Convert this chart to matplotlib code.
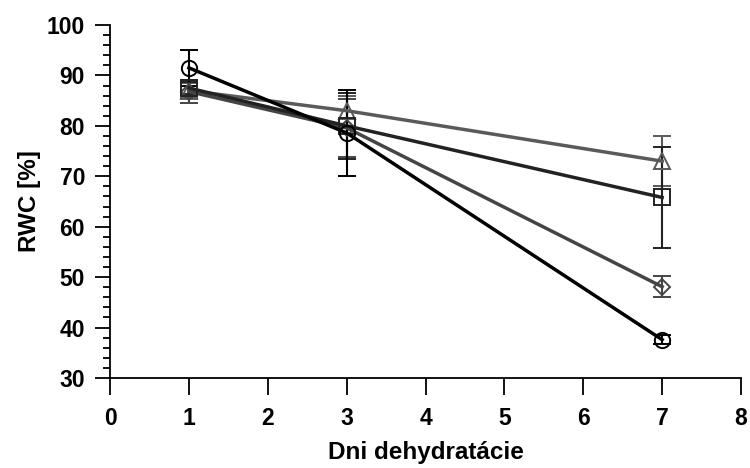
import matplotlib
matplotlib.use("Agg")
import matplotlib.pyplot as plt
from matplotlib.ticker import MultipleLocator

days = [1, 3, 7]
circle_vals = [91.5, 78.6, 37.6]
circle_err = [3.5, 8.5, 0.9]
square_vals = [87.5, 80.0, 65.8]
square_err = [1.2, 6.5, 10.0]
diamond_vals = [86.8, 79.6, 48.1]
diamond_err = [2.2, 5.7, 2.1]
triangle_vals = [87.0, 83.0, 73.0]
triangle_err = [1.5, 3.0, 4.9]

plt.rcParams['font.family'] = ['Liberation Sans', 'DejaVu Sans']
plt.rcParams['font.weight'] = 'bold'

fig = plt.figure(figsize=(7.5, 4.68), dpi=100)
ax = fig.add_axes([0.1467, 0.1923, 0.8413, 0.7543])

series = [
    (triangle_vals, triangle_err, '^', '#5a5a5a'),
    (diamond_vals, diamond_err, 'D', '#454545'),
    (square_vals, square_err, 's', '#222222'),
    (circle_vals, circle_err, 'o', '#000000'),
]
for vals, err, m, c in series:
    ms = 11 if m != 'D' else 8
    ax.errorbar(days, vals, yerr=err, color=c, lw=2.5, marker=m, ms=ms,
                mfc='none', mec=c, mew=1.4, ecolor=c, elinewidth=1.5,
                capsize=6.5, capthick=1.5)

ax.set_xlim(0, 8)
ax.set_ylim(30, 100)
ax.xaxis.set_major_locator(MultipleLocator(1))
ax.yaxis.set_major_locator(MultipleLocator(10))
ax.yaxis.set_minor_locator(MultipleLocator(2))
for s in ['top', 'right']:
    ax.spines[s].set_visible(False)
for s in ['left', 'bottom']:
    ax.spines[s].set_linewidth(1.3)
ax.tick_params(axis='y', which='major', length=11, width=1.3,
               labelsize=16.5, pad=7)
ax.tick_params(axis='y', which='minor', length=5, width=1.3)
ax.tick_params(axis='x', which='major', length=12, width=1.3,
               labelsize=16.5, pad=9)
ax.set_xlabel('Dni dehydratácie', fontsize=17.5, fontweight='bold', labelpad=8)
ax.set_ylabel('RWC [%]', fontsize=17.5, fontweight='bold', labelpad=4)

fig.savefig('out.png', dpi=100)
